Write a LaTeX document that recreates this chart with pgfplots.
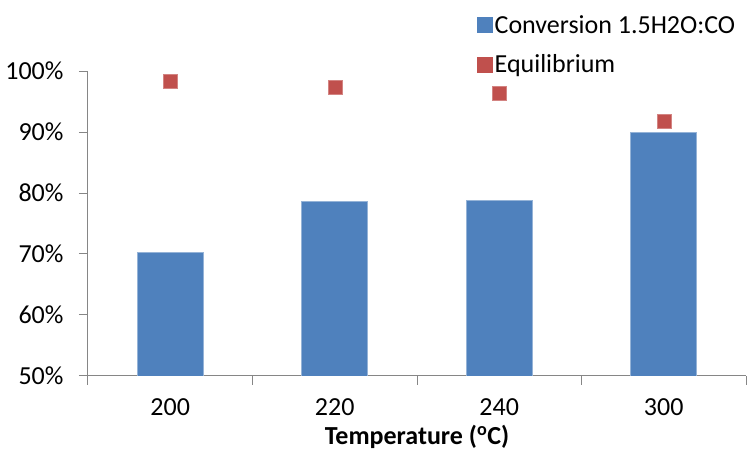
\documentclass[border=0pt]{standalone}
\usepackage{pgfplots}
\pgfplotsset{compat=1.18}
\usepackage{fontspec}
\setmainfont{Carlito}
\definecolor{barblue}{HTML}{4F81BD}
\definecolor{eqred}{HTML}{C0504D}
\definecolor{axisgray}{HTML}{868686}
\newcommand{\chartfont}{\fontsize{26}{30}\selectfont}
\begin{document}
\begin{tikzpicture}[x=1pt,y=1pt]
\path[use as bounding box] (-88,-73) rectangle (661,376);
\begin{axis}[
  at={(0,0)}, anchor=south west,
  scale only axis, width=658pt, height=305pt,
  xmin=-0.5, xmax=3.5, ymin=50, ymax=100,
  axis lines=left,
  axis line style={-, axisgray, line width=1pt},
  every outer x axis line/.append style={-},
  every outer y axis line/.append style={-},
  xtick={0,1,2,3}, xticklabels={200,220,240,300},
  major x tick style={draw=none},
  minor xtick={-0.5,0.5,1.5,2.5,3.5},
  ytick={50,60,70,80,90,100},
  major tick length=9pt, minor tick length=9pt,
  tick align=outside,
  tick style={axisgray, line width=1pt},
  /pgf/number format/assume math mode=true,
  yticklabel={\pgfmathprintnumber{\tick}\%},
  ticklabel style={font=\chartfont, text=black},
  yticklabel style={xshift=-12pt},
  xticklabel style={yshift=-10pt},
  xlabel={\textbf{Temperature (\textsuperscript{o}C)}},
  xlabel style={font=\chartfont, text=black, yshift=-3pt},
  legend style={at={(0.591,1.19)}, anchor=north west, draw=none, fill=none,
    font=\chartfont, row sep=16pt, inner sep=0pt, text=black},
  legend cell align=left,
]
\addplot[ybar, bar width=66pt, fill=barblue, draw=barblue!60!white, line width=0.6pt,
  legend image code/.code={\fill[barblue] (0pt,-7.5pt) rectangle (15pt,7.5pt);}]
  coordinates {(0,70.3) (1,78.6) (2,78.8) (3,90.0)};
\addlegendentry{Conversion 1.5H2O:CO}
\addplot[only marks, mark=square*, mark size=7pt,
  mark options={fill=eqred, draw=eqred!70!white, line width=0.5pt},
  legend image code/.code={\fill[eqred] (0pt,-7.5pt) rectangle (15pt,7.5pt);}]
  coordinates {(0,98.3) (1,97.4) (2,96.4) (3,91.7)};
\addlegendentry{Equilibrium}
\end{axis}
\end{tikzpicture}
\end{document}
